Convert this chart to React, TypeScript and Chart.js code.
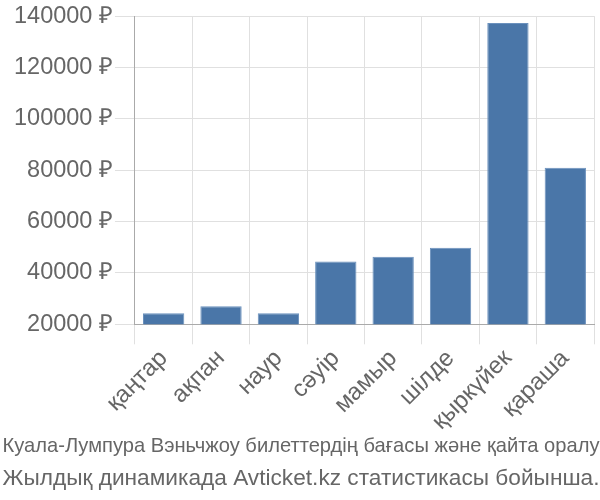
import React, { useEffect, useRef } from "react";
import { Chart, registerables } from "chart.js";

Chart.register(...registerables);

const categories = ["қаңтар", "ақпан", "наур", "сәуір", "мамыр", "шілде", "қыркүйек", "қараша"];
const prices = [24300, 27000, 24300, 44500, 46300, 49800, 137300, 81000];
const yTicks = [20000, 40000, 60000, 80000, 100000, 120000, 140000];
const titleLines = [
  "Куала-Лумпура Вэньчжоу билеттердің бағасы және қайта оралу",
  "Жылдық динамикада Avticket.kz статистикасы бойынша.",
];
const titleSizes = [21, 22];
const titleBaselines = [452, 485];

const condensedTitle = {
  id: "condensedTitle",
  afterDraw(chart: any) {
    const ctx = chart.ctx as CanvasRenderingContext2D;
    const W = chart.width;
    titleLines.forEach((line, i) => {
      ctx.save();
      ctx.font = `${titleSizes[i]}px 'Liberation Sans', Arial, sans-serif`;
      ctx.fillStyle = "#666";
      ctx.textBaseline = "alphabetic";
      ctx.textAlign = "left";
      const w = ctx.measureText(line).width;
      const target = W - 3;
      const sx = target / w;
      ctx.translate((W - target) / 2 + 1, titleBaselines[i]);
      ctx.scale(sx, 1);
      ctx.fillText(line, 0, 0);
      ctx.restore();
    });
  },
};

export default function App() {
  const ref = useRef<HTMLCanvasElement | null>(null);
  useEffect(() => {
    if (!ref.current) return;
    const chart = new Chart(ref.current, {
      type: "bar",
      data: {
        labels: categories,
        datasets: [
          {
            data: prices,
            backgroundColor: "#4a76a8",
            borderColor: "#6b91bd",
            borderWidth: 1,
          },
        ],
      },
      plugins: [condensedTitle],
      options: {
        animation: false,
        responsive: true,
        maintainAspectRatio: false,
        layout: { padding: { right: 6, top: 3, left: 12, bottom: 64 } },
        plugins: {
          legend: { display: false },
          tooltip: { enabled: false },
          title: { display: false },
        },
        scales: {
          x: {
            grid: { color: "#e0e0e0", tickLength: 20, lineWidth: 1 },
            border: { color: "#aaa" },
            ticks: {
              color: "#666",
              font: { family: "'Liberation Sans'", size: 24 },
              maxRotation: 45,
              minRotation: 45,
              padding: 0,
            },
          },
          y: {
            min: 20000,
            max: 140000,
            afterBuildTicks: (axis: any) => {
              axis.ticks = yTicks.map((v) => ({ value: v }));
            },
            grid: { color: "#e0e0e0", tickLength: 20, lineWidth: 1 },
            border: { color: "#aaa" },
            ticks: {
              color: "#666",
              font: { family: "'Liberation Sans'", size: 23.5 },
              padding: 2,
              callback: (v: any) => `${v} ₽`,
            },
          },
        },
      },
    });
    return () => chart.destroy();
  }, []);
  return (
    <div style={{ position: "fixed", left: 0, top: 0, width: 600, height: 500, background: "#fff" }}>
      <canvas ref={ref} />
    </div>
  );
}
